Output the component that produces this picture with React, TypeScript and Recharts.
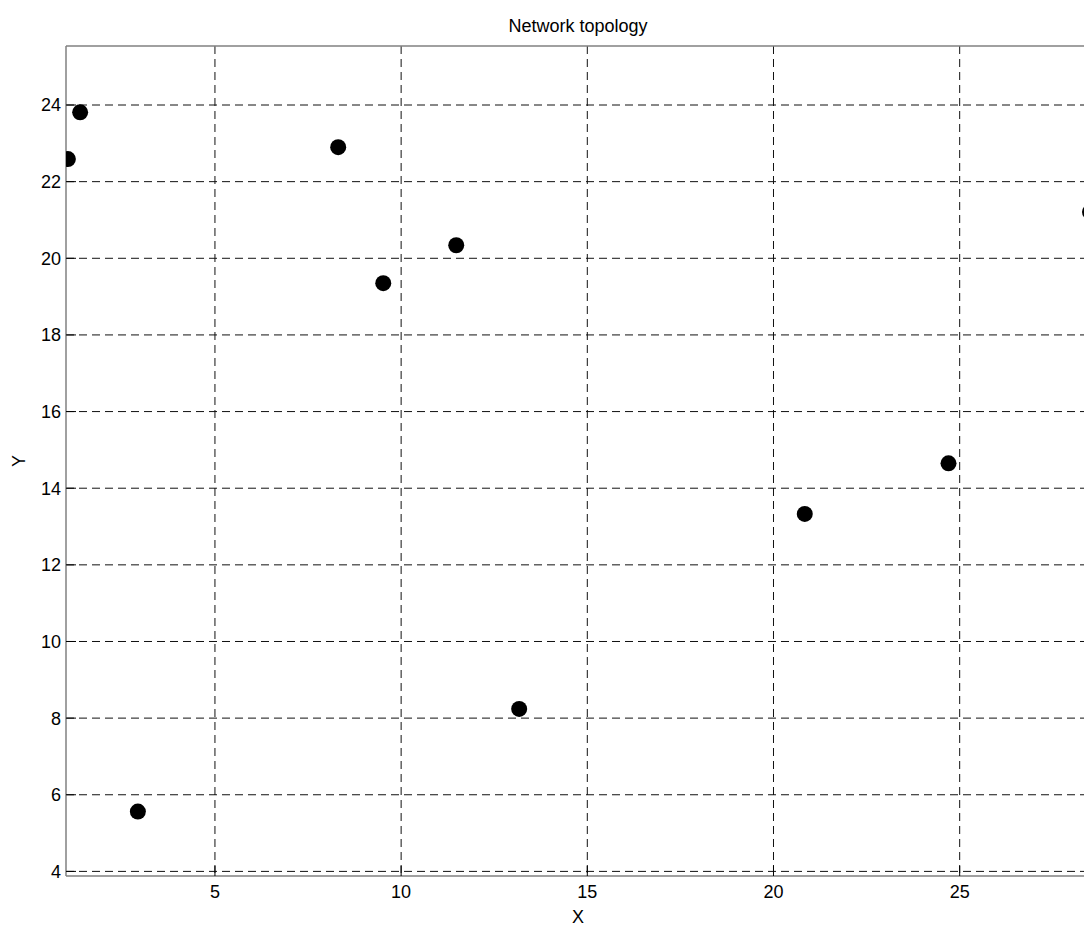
import { ScatterChart, Scatter, XAxis, YAxis, CartesianGrid } from 'recharts';

const nodeX = [1.05, 1.38, 2.93, 8.31, 9.52, 11.48, 13.17, 20.84, 24.7, 28.5];
const nodeY = [22.59, 23.81, 5.56, 22.9, 19.35, 20.34, 8.24, 13.33, 14.65, 21.21];
const xTicks = [5, 10, 15, 20, 25];
const yTicks = [4, 6, 8, 10, 12, 14, 16, 18, 20, 22, 24];

const nodes = nodeX.map((x, i) => ({ x, y: nodeY[i] }));

const font = '"Liberation Sans", Arial, sans-serif';
const tickStyle = { fill: '#000', fontSize: 18, fontFamily: font };

const Dot = (props: any) => <circle cx={props.cx} cy={props.cy} r={8} fill="#000" />;

export default function App() {
  return (
    <div
      style={{
        position: 'absolute',
        left: 0,
        top: 0,
        width: 1084,
        height: 926,
        overflow: 'hidden',
        background: '#fff',
      }}
    >
      <div
        style={{
          position: 'absolute',
          left: 0,
          top: 16,
          width: 1156,
          textAlign: 'center',
          fontFamily: font,
          fontSize: 18,
          lineHeight: '20px',
          color: '#000',
        }}
      >
        Network topology
      </div>
      <ScatterChart width={1100} height={926} margin={{ top: 45, right: 10, left: 0, bottom: 0 }}>
        <CartesianGrid stroke="#111" strokeDasharray="8 5" syncWithTicks />
        <XAxis
          type="number"
          dataKey="x"
          domain={[1, 28.5]}
          ticks={xTicks}
          allowDataOverflow
          height={50}
          axisLine={{ stroke: '#808080', strokeWidth: 1.5 }}
          tickLine={{ stroke: '#000' }}
          tickSize={-10}
          tickMargin={19}
          tick={tickStyle}
          label={{ value: 'X', position: 'insideBottom', offset: 3, style: { fill: '#000', fontSize: 18, fontFamily: font } }}
        />
        <XAxis
          xAxisId="top"
          orientation="top"
          type="number"
          dataKey="x"
          domain={[1, 28.5]}
          ticks={xTicks}
          allowDataOverflow
          height={1}
          axisLine={{ stroke: '#808080', strokeWidth: 1.5 }}
          tickLine={{ stroke: '#000' }}
          tickSize={-10}
          tick={false}
        />
        <YAxis
          type="number"
          dataKey="y"
          domain={[3.88, 25.54]}
          ticks={yTicks}
          allowDataOverflow
          width={66}
          axisLine={{ stroke: '#808080', strokeWidth: 1.5 }}
          tickLine={{ stroke: '#000' }}
          tickSize={-10}
          tickMargin={15}
          tick={tickStyle}
          label={{ value: 'Y', angle: -90, position: 'insideLeft', offset: 19, style: { fill: '#000', fontSize: 18, fontFamily: font, textAnchor: 'middle' } }}
        />
        <Scatter data={nodes} fill="#000" shape={Dot} isAnimationActive={false} />
      </ScatterChart>
    </div>
  );
}
